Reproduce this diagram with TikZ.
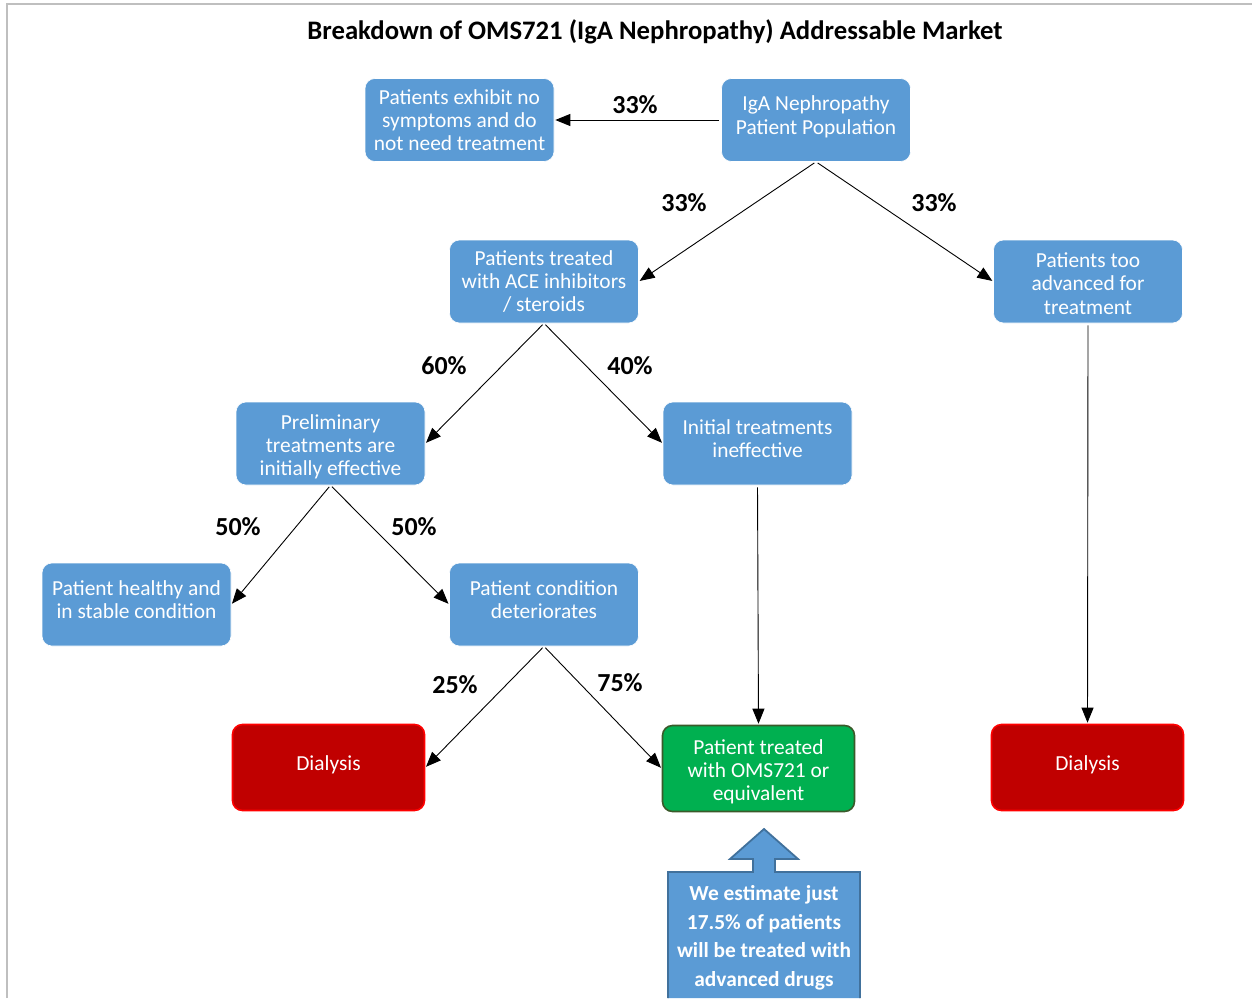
\documentclass[tikz,border=0pt]{standalone}
\usepackage{fontspec}
\setmainfont{Carlito}
\usetikzlibrary{arrows.meta}
\definecolor{boxblue}{HTML}{5B9BD5}
\definecolor{callborder}{HTML}{41719C}
\definecolor{dred}{HTML}{C00000}
\definecolor{bred}{HTML}{FF0000}
\definecolor{dgreen}{HTML}{00B050}
\definecolor{gborder}{HTML}{3A5A2A}
\definecolor{frame}{HTML}{BFBFBF}
\newcommand\lowrule[1]{\rule[-#1pt]{0pt}{0pt}}
\newcommand\highrule[1]{\rule{0pt}{#1pt}}
\tikzset{
  box/.style={rectangle, rounded corners=10pt, fill=boxblue, draw=white, line width=0.6pt,
    minimum width=189pt, minimum height=83pt, text=white, align=center,
    font=\fontsize{21.4}{23.2}\selectfont, inner sep=2pt},
  redbox/.style={box, fill=dred, draw=bred, line width=1.6pt, minimum width=192pt, minimum height=86pt},
  greenbox/.style={box, fill=dgreen, draw=gborder, line width=1.6pt, minimum width=192pt, minimum height=86pt},
  pct/.style={font=\fontsize{26}{28}\selectfont\bfseries, text=black},
  conn/.style={draw=black, line width=0.9pt, -{Triangle[length=15pt,width=12pt]}, shorten <=2pt, shorten >=1pt},
}
\begin{document}
\begin{tikzpicture}[x=1pt,y=-1pt]
\useasboundingbox (0,0) rectangle (1252,998);
\fill[white] (0,0) rectangle (1252,998);
% frame
\draw[frame, line width=2pt] (7,998) -- (7,4) -- (1252,4);
% title
\node[font=\fontsize{26.7}{30}\selectfont\bfseries] (title) at (655,32) {Breakdown of OMS721 (IgA Nephropathy) Addressable Market};
% boxes
\node[box] (A) at (816,120) {IgA Nephropathy\\Patient Population\lowrule{10}};
\node[box] (B) at (459.5,120) {Patients exhibit no\\symptoms and do\\not need treatment};
\node[box] (C) at (544,281.5) {Patients treated\\with ACE inhibitors\\/ steroids};
\node[box] (D) at (1088,281.5) {\highrule{19}Patients too\\advanced for\\treatment};
\node[box] (E) at (330.5,443.5) {\highrule{21}Preliminary\\treatments are\\initially effective};
\node[box] (F) at (757.5,443.5) {Initial treatments\\ineffective\lowrule{10}};
\node[box] (G) at (136.5,604.5) {Patient healthy and\\in stable condition\lowrule{10}};
\node[box] (H) at (544,604.5) {Patient condition\\deteriorates\lowrule{10}};
\node[redbox] (I) at (328.5,767.5) {Dialysis\lowrule{9}};
\node[greenbox] (J) at (758.5,768.5) {\highrule{21}Patient treated\\with OMS721 or\\equivalent};
\node[redbox] (K) at (1087.5,767.5) {Dialysis\lowrule{9}};
% connectors
\draw[conn] (A.west) -- (B.east);
\draw[conn] (A.south) -- (C.east);
\draw[conn] (A.south) -- (D.west);
\draw[conn] (C.south) -- (E.east);
\draw[conn] (C.south) -- (F.west);
\draw[conn] (E.south) -- (G.east);
\draw[conn] (E.south) -- (H.west);
\draw[conn] (H.south) -- (I.east);
\draw[conn] (H.south) -- (J.west);
\draw[conn] (F.south) -- (J.north);
\draw[conn] (D.south) -- (K.north);
% labels
\node[pct] (l1) at (635,105) {33\%};
\node[pct] (l2) at (684,203) {33\%};
\node[pct] (l3) at (934,203) {33\%};
\node[pct] (l4) at (444,366) {60\%};
\node[pct] (l5) at (630,366) {40\%};
\node[pct] (l6) at (238,527) {50\%};
\node[pct] (l7) at (414,527) {50\%};
\node[pct] (l8) at (455,685) {25\%};
\node[pct] (l9) at (620,683) {75\%};
% callout
\fill[boxblue] (668,998) -- (668,872) -- (753,872) -- (753,859) -- (730,859) -- (764,829) -- (798,859) -- (775,859) -- (775,872) -- (860,872) -- (860,998) -- cycle;
\draw[callborder, line width=1.8pt] (668,998) -- (668,872) -- (753,872) -- (753,859) -- (730,859) -- (764,829) -- (798,859) -- (775,859) -- (775,872) -- (860,872) -- (860,998);
\node[text=white, align=center, font=\fontsize{21.4}{28.5}\selectfont\bfseries] (callout) at (764,938) {We estimate just\\17.5\% of patients\\will be treated with\\advanced drugs};
\end{tikzpicture}
\end{document}
